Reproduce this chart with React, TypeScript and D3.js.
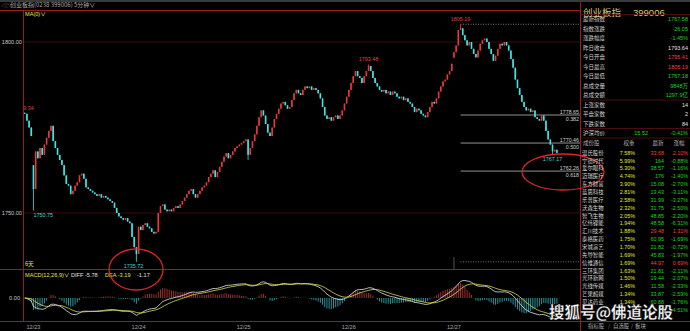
import React, { useEffect, useRef } from "react";
import * as d3 from "d3";

// ---------- data ----------
const closes: number[] = [
  // 12/20 tail
  1779, 1777, 1775, 1772.5,
  // 12/23
  1757, 1768, 1766, 1769, 1767, 1770, 1772, 1774, 1775.5, 1771, 1769, 1767, 1765.5, 1764, 1761, 1758.5,
  1758, 1755.5, 1756.5, 1758, 1759, 1761, 1761.5, 1760, 1757.5, 1757, 1756.5, 1756, 1755.5, 1755, 1755.5, 1754.5,
  1755, 1754.5, 1754, 1753.5, 1753, 1751.5, 1750, 1749, 1748.5, 1748, 1748.5, 1747.5, 1747, 1743, 1740, 1738,
  // 12/24
  1746, 1745, 1746.5, 1747, 1746, 1745.5, 1744.5, 1744, 1744.5, 1750, 1752, 1752.5, 1751, 1750.5, 1751, 1750.5,
  1751.5, 1752, 1751.5, 1752.5, 1753.5, 1754.5, 1755.5, 1756.5, 1757, 1755.5, 1754.5, 1755.5, 1756.5, 1757.5, 1758, 1759,
  1760.5, 1761.5, 1762.5, 1760.5, 1762, 1763.5, 1765, 1766.5, 1767.5, 1766, 1767, 1768, 1769, 1769.5, 1770, 1770.5,
  // 12/25
  1771, 1771.5, 1767, 1769, 1771, 1773, 1775.5, 1778, 1780, 1778.5, 1776, 1773.5, 1772.5, 1775, 1777.5, 1779,
  1780.5, 1782, 1782.5, 1781.5, 1780.5, 1781, 1783, 1785, 1786, 1785, 1784.5, 1786, 1787, 1786.5, 1787, 1786,
  1786.5, 1786, 1785, 1783.5, 1781, 1778.5, 1777.5, 1778, 1777, 1778, 1778.5, 1777.5, 1778.5, 1780, 1782, 1784,
  // 12/26
  1786, 1788, 1790, 1791.5, 1790, 1789.5, 1788, 1790, 1791.5, 1793, 1791.5, 1789.5, 1788, 1787, 1786, 1785.5,
  1786, 1785, 1785.5, 1784.5, 1785.5, 1785, 1784, 1783.5, 1784, 1783, 1783.5, 1782.5, 1782, 1781, 1779.5, 1780.5,
  1780, 1779, 1778.5, 1778, 1779.5, 1781, 1782.5, 1782, 1783.5, 1785.5, 1787, 1788.5, 1789, 1790.5, 1791.5, 1793.64,
  // 12/27
  1797, 1799, 1803.5, 1804, 1802, 1800.5, 1799, 1800, 1798, 1796.5, 1795.5, 1797.5, 1799.5, 1800.5, 1801, 1800,
  1798, 1796.5, 1794.5, 1796, 1798, 1799.5, 1799, 1800, 1799, 1797.5, 1795, 1792.5, 1789, 1786.5, 1784.5, 1782.5,
  1781, 1780, 1780.5, 1779.5, 1780, 1778, 1777.5, 1777, 1778.5, 1777, 1774, 1771.5, 1770, 1768, 1768.5, 1767.58,
];
const openOverrides = [
  { i: 0, open: 1779.3 },
  { i: 4, open: 1764 },
  { i: 196, open: 1795.41 },
];
const wicks = [
  { i: 0, high: 1779.34 },
  { i: 4, low: 1750.75 },
  { i: 51, low: 1735.72 },
  { i: 102, low: 1765.5 },
  { i: 157, high: 1793.48 },
  { i: 199, high: 1805.19 },
  { i: 241, low: 1767.18 },
];
const dayLabels = ["12/23", "12/24", "12/25", "12/26", "12/27"];
const dayStarts = [4, 52, 100, 148, 196];
const priceTicks = [1800, 1750];
const extremeLabels = [
  { i: 0, text: "1779.34", side: "high", color: "red", anchor: "end", dx: 9 },
  { i: 4, text: "1750.75", side: "low", color: "cyan", anchor: "start", dx: 0 },
  { i: 51, text: "1735.72", side: "low", color: "cyan", anchor: "middle", dx: -3 },
  { i: 157, text: "1793.48", side: "high", color: "red", anchor: "middle", dx: 0 },
  { i: 199, text: "1805.19", side: "high", color: "red", anchor: "middle", dx: 0 },
  { i: 241, text: "1767.17", side: "low", color: "cyan", anchor: "middle", dx: 0 },
];
const fibHigh = 1805.19;
const fibLow = 1735.72;
const fibRatios = [0.382, 0.5, 0.618];
const fibPriceLabels = ["1778.65", "1770.46", "1762.26"];
const fibRatioLabels = ["0.382", "0.500", "0.618"];

const infoLabels = ["最新指数", "指数涨跌", "涨跌幅度", "昨日收盘", "今日开盘", "今日最高", "今日最低", "总成交量", "总成交额", "上涨家数", "平盘家数", "下跌家数"];
const infoValues = ["1767.58", "-26.05", "-1.45%", "1793.64", "1795.41", "1805.19", "1767.18", "9848万", "1297.9亿", "14", "2", "84"];
const infoColors = ["g", "g", "g", "w", "r", "r", "g", "g", "g", "w", "w", "w"];

const stockNames = ["温氏股份", "宁德时代", "爱尔眼科", "迈瑞医疗", "东方财富", "蓝思科技", "乐普医疗", "沃森生物", "智飞生物", "亿纬锂能", "汇川技术", "泰格医药", "宋城演艺", "先导智能", "信维通信", "三环集团", "光环新网", "光线传媒", "芒果超媒", "贝达药业", ""];
const stockWeights = ["7.58%", "5.99%", "5.30%", "4.74%", "3.90%", "2.81%", "2.58%", "2.32%", "2.05%", "1.94%", "1.88%", "1.75%", "1.70%", "1.69%", "1.69%", "1.63%", "1.50%", "1.46%", "1.34%", "1.34%", ""];
const stockPrices = ["33.68", "164", "38.57", "176", "15.08", "13.43", "31.99", "31.75", "48.85", "48.58", "29.48", "60.95", "21.82", "45.83", "44.97", "21.81", "19.44", "11.58", "33.87", "60.88", ""];
const stockChanges = ["2.10%", "-0.88%", "-1.16%", "-1.40%", "-2.70%", "-3.11%", "-3.27%", "-2.50%", "-2.20%", "-6.31%", "1.31%", "-1.69%", "-0.72%", "-1.97%", "0.69%", "-2.11%", "-2.07%", "-2.33%", "-2.59%", "-1.76%", "-4.51%"];

// ---------- style ----------
const RED = "#e8383c";
const CYAN = "#3ee6e6";
const FRAME = "#9a1c1c";
const GREEN = "#22d022";
const TXT = "#c8c8c8";
const YEL = "#e6e640";
const FONT = "'Liberation Sans', 'Noto Sans CJK SC', sans-serif";
const CJK = "'Noto Sans CJK SC', sans-serif";

function ema(arr: number[], n: number, seed: number) {
  const k = 2 / (n + 1);
  const out: number[] = [];
  let prev = seed;
  arr.forEach((v) => {
    prev = prev + k * (v - prev);
    out.push(prev);
  });
  return out;
}

export default function App() {
  const ref = useRef<SVGSVGElement>(null);
  useEffect(() => {
    document.body.style.margin = "0";
    document.body.style.background = "#000";
    const svg = d3.select(ref.current);
    svg.selectAll("*").remove();

    const n = closes.length;
    const x = d3.scaleLinear().domain([0, n - 1]).range([24.7, 556.9]);
    const y = d3.scaleLinear().domain([1750, 1800]).range([213, 42]);

    const opens = closes.map((c, i) => (i === 0 ? c : closes[i - 1]));
    openOverrides.forEach((o) => (opens[o.i] = o.open));
    const highs = closes.map((c, i) => Math.max(c, opens[i]));
    const lows = closes.map((c, i) => Math.min(c, opens[i]));
    wicks.forEach((w: any) => {
      if (w.high != null) highs[w.i] = w.high;
      if (w.low != null) lows[w.i] = w.low;
    });

    svg.append("rect").attr("width", 690).attr("height", 331).attr("fill", "#000");
    svg.append("rect").attr("width", 690).attr("height", 2).attr("fill", "#3a3a3a");

    const defs = svg.append("defs");
    defs.append("clipPath").attr("id", "plot").append("rect").attr("x", 23.5).attr("y", 10).attr("width", 556).attr("height", 260);

    // title
    svg.append("text").attr("x", 1).attr("y", 7).attr("font-size", 5).attr("fill", "#8a8a8a").attr("font-family", FONT).text("◁▷");
    svg.append("text").attr("x", 10).attr("y", 7.3).attr("font-size", 6).attr("fill", "#a8a8a8").attr("font-family", CJK)
      .text("创业板指(0238 399006)   5分钟∨");

    // frame
    const frame = svg.append("g").attr("stroke", FRAME).attr("stroke-width", 1);
    frame.append("line").attr("x1", 0).attr("x2", 580).attr("y1", 10.5).attr("y2", 10.5);
    frame.append("line").attr("x1", 0).attr("x2", 580).attr("y1", 269.5).attr("y2", 269.5);
    frame.append("line").attr("x1", 0).attr("x2", 690).attr("y1", 321.5).attr("y2", 321.5);
    frame.append("line").attr("x1", 23.5).attr("x2", 23.5).attr("y1", 10).attr("y2", 322);
    frame.append("line").attr("x1", 580.5).attr("x2", 580.5).attr("y1", 2).attr("y2", 331);

    // price grid
    priceTicks.forEach((p) => {
      svg.append("line").attr("x1", 24).attr("x2", 580).attr("y1", y(p)).attr("y2", y(p)).attr("stroke", "#3a0c0c").attr("stroke-width", 1);
      svg.append("text").attr("x", 22).attr("y", y(p) + 2).attr("text-anchor", "end").attr("font-size", 5.6).attr("fill", TXT).attr("font-family", FONT).text(p.toFixed(2));
    });

    svg.append("text").attr("x", 25).attr("y", 15.5).attr("font-size", 5.6).attr("fill", YEL).attr("font-family", FONT).text("MA(0)∨");
    svg.append("text").attr("x", 25).attr("y", 266).attr("font-size", 5.6).attr("fill", YEL).attr("font-family", CJK).text("6天");

    // fib lines
    const fx = x(199);
    svg.append("line").attr("x1", fx).attr("x2", 580).attr("y1", y(fibHigh)).attr("y2", y(fibHigh)).attr("stroke", "#9a9a9a").attr("stroke-width", 0.8).attr("stroke-dasharray", "1,1.5");
    svg.append("line").attr("x1", fx).attr("x2", 580).attr("y1", y(fibLow)).attr("y2", y(fibLow)).attr("stroke", "#9a9a9a").attr("stroke-width", 0.8).attr("stroke-dasharray", "1,1.5");
    fibRatios.forEach((r, k) => {
      const p = fibHigh - r * (fibHigh - fibLow);
      svg.append("line").attr("x1", fx).attr("x2", 580).attr("y1", y(p)).attr("y2", y(p)).attr("stroke", "#b8b8b8").attr("stroke-width", 0.8);
      svg.append("text").attr("x", 579).attr("y", y(p) - 1.5).attr("text-anchor", "end").attr("font-size", 5.3).attr("fill", "#d0d0d0").attr("font-family", FONT).text(fibPriceLabels[k]);
      svg.append("text").attr("x", 579).attr("y", y(p) + 6).attr("text-anchor", "end").attr("font-size", 5.3).attr("fill", "#d0d0d0").attr("font-family", FONT).text(fibRatioLabels[k]);
    });

    // candles
    const cg = svg.append("g").attr("clip-path", "url(#plot)");
    closes.forEach((c, i) => {
      const up = c >= opens[i];
      const col = up ? RED : CYAN;
      cg.append("line").attr("x1", x(i)).attr("x2", x(i)).attr("y1", y(highs[i])).attr("y2", y(lows[i])).attr("stroke", col).attr("stroke-width", 0.8);
      const top = y(Math.max(c, opens[i]));
      const bot = y(Math.min(c, opens[i]));
      cg.append("rect").attr("x", x(i) - 0.8).attr("width", 1.6).attr("y", top).attr("height", Math.max(0.8, bot - top)).attr("fill", col);
    });

    // extreme labels
    const lg = svg.append("g").attr("clip-path", "url(#plot)");
    extremeLabels.forEach((l) => {
      const yy = l.side === "high" ? y(highs[l.i]) - 3 : y(lows[l.i]) + 6.5;
      lg.append("text").attr("x", x(l.i) + l.dx).attr("y", yy).attr("text-anchor", l.anchor).attr("font-size", 5.4)
        .attr("fill", l.color === "red" ? "#e04040" : "#40d8d8").attr("font-family", FONT).text(l.text);
    });

    // MACD
    const e12 = ema(closes, 12, closes[0]);
    const e26 = ema(closes, 26, closes[0]);
    const diff = e12.map((v, i) => v - e26[i]);
    const dea = ema(diff, 9, 0);
    const hist = diff.map((v, i) => 2 * (v - dea[i]));
    const my = d3.scaleLinear().domain([-6, 6]).range([319, 277]);
    const hg = svg.append("g");
    hist.forEach((h, i) => {
      hg.append("line").attr("x1", x(i)).attr("x2", x(i)).attr("y1", my(0)).attr("y2", my(h))
        .attr("stroke", h >= 0 ? "#c83a3a" : "#3ab8c0").attr("stroke-width", 0.8);
    });
    const line = d3.line<number>().x((_, i) => x(i)).y((v) => Math.max(271, Math.min(321, my(v))));
    svg.append("path").attr("d", line(diff)).attr("fill", "none").attr("stroke", "#e8e8e8").attr("stroke-width", 0.8);
    svg.append("path").attr("d", line(dea)).attr("fill", "none").attr("stroke", "#e0e050").attr("stroke-width", 0.8);
    svg.append("text").attr("x", 20).attr("y", my(0) + 2).attr("text-anchor", "end").attr("font-size", 5.6).attr("fill", TXT).attr("font-family", FONT).text("0.00");
    svg.append("line").attr("x1", x(196)).attr("x2", x(196)).attr("y1", 257).attr("y2", 269).attr("stroke", "#888").attr("stroke-width", 0.6);

    const ml = svg.append("text").attr("y", 276.5).attr("font-size", 5.6).attr("font-family", FONT);
    ml.append("tspan").attr("x", 25).attr("fill", YEL).text("MACD(12,26,9)∨");
    ml.append("tspan").attr("x", 71).attr("fill", "#e0e0e0").text("DIFF -5.78");
    ml.append("tspan").attr("x", 105).attr("fill", YEL).text("DEA -3.19");
    ml.append("tspan").attr("x", 137).attr("fill", "#e0e0e0").text("-1.17");

    // dates
    dayLabels.forEach((d, k) => {
      svg.append("text").attr("x", x(dayStarts[k])).attr("y", 329).attr("text-anchor", "middle").attr("font-size", 5.6).attr("fill", "#a8a8a8").attr("font-family", FONT).text(d);
    });

    // ellipses
    svg.append("ellipse").attr("cx", 136).attr("cy", 269.5).attr("rx", 27).attr("ry", 20.5).attr("fill", "none").attr("stroke", "#e02424").attr("stroke-width", 1.3);
    svg.append("ellipse").attr("cx", 563).attr("cy", 172).attr("rx", 41).attr("ry", 18).attr("fill", "none").attr("stroke", "#e02424").attr("stroke-width", 1.3);

    // right panel
    const rp = svg.append("g").attr("font-family", CJK);
    rp.append("text").attr("x", 583).attr("y", 16).attr("font-size", 9.5).attr("fill", "#d8c878").text("创业板指");
    rp.append("text").attr("x", 633).attr("y", 16).attr("font-size", 9.5).attr("fill", "#d8c878").attr("font-family", FONT).text("399006");
    const colorOf = (c: string) => (c === "g" ? GREEN : c === "r" ? "#f04040" : "#e0e0e0");
    [14.5, 100, 128.5, 138].forEach((yy) => rp.append("line").attr("x1", 581).attr("x2", 690).attr("y1", yy).attr("y2", yy).attr("stroke", "#5a1212").attr("stroke-width", 0.8));
    infoLabels.forEach((lab, k) => {
      const cy = 19 + k * 9.5;
      rp.append("text").attr("x", 583).attr("y", cy + 2).attr("font-size", 5.5).attr("fill", "#d0d0d0").text(lab);
      rp.append("text").attr("x", 688).attr("y", cy + 2).attr("text-anchor", "end").attr("font-size", 5.5).attr("fill", colorOf(infoColors[k])).attr("font-family", FONT).text(infoValues[k]);
    });
    rp.append("text").attr("x", 583).attr("y", 135).attr("font-size", 5.5).attr("fill", "#d0d0d0").text("沪深均价");
    rp.append("text").attr("x", 648).attr("y", 135).attr("text-anchor", "end").attr("font-size", 5.5).attr("fill", GREEN).attr("font-family", FONT).text("15.52");
    rp.append("text").attr("x", 688).attr("y", 135).attr("text-anchor", "end").attr("font-size", 5.5).attr("fill", GREEN).attr("font-family", FONT).text("-0.41%");

    rp.append("text").attr("x", 583).attr("y", 145).attr("font-size", 5.5).attr("fill", "#b0b0b0").text("成份股");
    rp.append("text").attr("x", 629).attr("y", 145).attr("text-anchor", "middle").attr("font-size", 5.5).attr("fill", "#b0b0b0").text("权重");
    rp.append("text").attr("x", 658).attr("y", 145).attr("text-anchor", "middle").attr("font-size", 5.5).attr("fill", "#b0b0b0").text("最新");
    rp.append("text").attr("x", 679).attr("y", 145).attr("text-anchor", "middle").attr("font-size", 5.5).attr("fill", "#b0b0b0").text("涨幅");
    stockNames.forEach((nm, k) => {
      const cy = 152.7 + k * 7.86;
      const up = !stockChanges[k].startsWith("-");
      const col = up ? "#f04040" : GREEN;
      rp.append("text").attr("x", 582).attr("y", cy + 2).attr("font-size", 5.4).attr("fill", "#d8d8d8").text(nm);
      rp.append("text").attr("x", 635).attr("y", cy + 2).attr("text-anchor", "end").attr("font-size", 5.4).attr("fill", YEL).attr("font-family", FONT).text(stockWeights[k]);
      rp.append("text").attr("x", 664).attr("y", cy + 2).attr("text-anchor", "end").attr("font-size", 5.4).attr("fill", col).attr("font-family", FONT).text(stockPrices[k]);
      rp.append("text").attr("x", 688).attr("y", cy + 2).attr("text-anchor", "end").attr("font-size", 5.4).attr("fill", col).attr("font-family", FONT).text(stockChanges[k]);
    });
    const tabs = ["指标股", "自选股", "板块"];
    const tabX = [588, 613, 635];
    tabs.forEach((t, k) => rp.append("text").attr("x", tabX[k]).attr("y", 327.5).attr("font-size", 5.4).attr("fill", "#b0b0b0").text(t));
    rp.append("text").attr("x", 608).attr("y", 327.5).attr("font-size", 5.4).attr("fill", "#888").text("/");
    rp.append("text").attr("x", 631).attr("y", 327.5).attr("font-size", 5.4).attr("fill", "#888").text("/");

    // watermark
    svg.append("text").attr("x", 549).attr("y", 318).attr("font-size", 15.5).attr("font-weight", "bold").attr("fill", "#ffffff")
      .attr("font-family", CJK).attr("stroke", "#222").attr("stroke-width", 0.3).text("搜狐号@佛道论股");
  }, []);

  return (
    <div style={{ position: "absolute", left: 0, top: 0, width: 690, height: 331, background: "#000" }}>
      <svg ref={ref} width={690} height={331} />
    </div>
  );
}
